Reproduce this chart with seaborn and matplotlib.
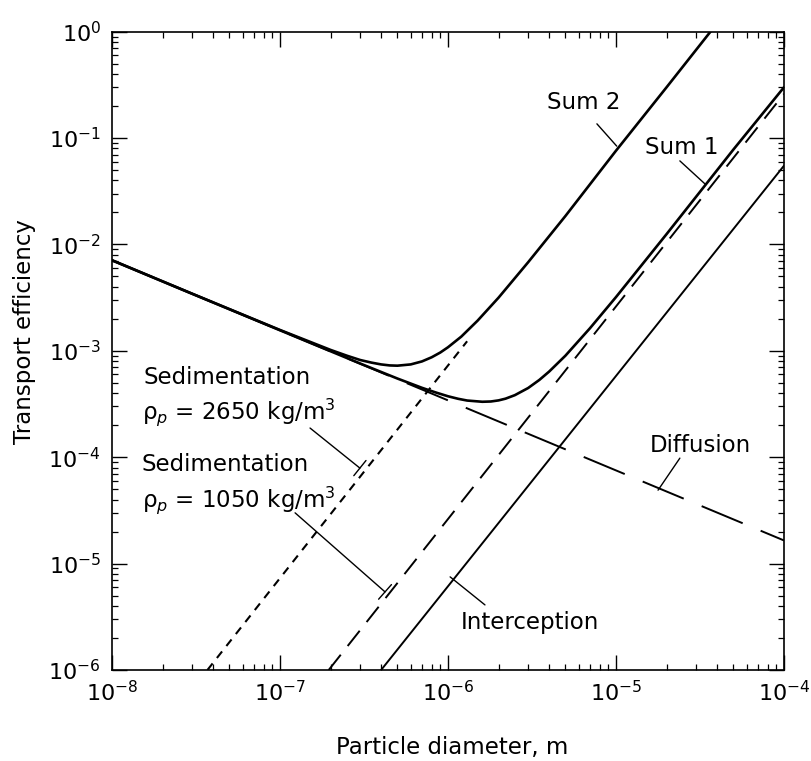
import numpy as np
import pandas as pd
import seaborn as sns
import matplotlib
matplotlib.use('Agg')
import matplotlib.pyplot as plt
from matplotlib.ticker import LogLocator, NullFormatter

# values (particle diameter in m, efficiency)
diff_d = [1e-8, 1e-4]
diff_eff = [7.1e-3, 1.65e-5]

intercept_d = [4e-7, 1e-4]
intercept_eff = [1e-6, 5.5e-2]

sed1050_d = [1.95e-7, 1e-4]
sed1050_eff = [1e-6, 0.26]

sed2650_d = [3.7e-8, 1.3e-6]
sed2650_eff = [1e-6, 1.23e-3]

sum1_d = [1e-8, 3e-8, 1e-7, 3e-7, 5e-7, 7e-7, 8.5e-7, 1e-6, 1.15e-6, 1.3e-6,
          1.6e-6, 1.8e-6, 2e-6, 2.2e-6, 2.5e-6, 3e-6, 3.5e-6, 4e-6, 5e-6, 7e-6,
          1e-5, 2e-5, 5e-5, 1e-4]
sum1_eff = [7.1e-3, 3.44e-3, 1.56e-3, 7.6e-4, 5.49e-4, 4.49e-4, 4.05e-4, 3.74e-4,
            3.54e-4, 3.41e-4, 3.32e-4, 3.34e-4, 3.42e-4, 3.55e-4, 3.83e-4, 4.47e-4,
            5.33e-4, 6.38e-4, 9.0e-4, 1.63e-3, 3.2e-3, 1.25e-2, 7.8e-2, 0.30]

sum2_d = [1e-8, 3e-8, 1e-7, 2e-7, 2.5e-7, 3e-7, 3.5e-7, 4e-7, 4.5e-7, 5e-7,
          6e-7, 7e-7, 8e-7, 9e-7, 1e-6, 1.2e-6, 1.5e-6, 2e-6, 3e-6, 5e-6,
          1e-5, 2e-5, 4e-5]
sum2_eff = [7.1e-3, 3.44e-3, 1.57e-3, 1.02e-3, 9.0e-4, 8.2e-4, 7.75e-4, 7.45e-4,
            7.29e-4, 7.25e-4, 7.45e-4, 7.95e-4, 8.7e-4, 9.64e-4, 1.08e-3, 1.36e-3,
            1.92e-3, 3.16e-3, 6.8e-3, 1.85e-2, 7.6e-2, 0.30, 1.2]

curves = {
    'Diffusion': (diff_d, diff_eff),
    'Interception': (intercept_d, intercept_eff),
    'Sed1050': (sed1050_d, sed1050_eff),
    'Sed2650': (sed2650_d, sed2650_eff),
    'Sum 1': (sum1_d, sum1_eff),
    'Sum 2': (sum2_d, sum2_eff),
}

rows = []
for name, (xs, ys) in curves.items():
    for x, y in zip(xs, ys):
        rows.append({'curve': name, 'd': x, 'eff': y})
df = pd.DataFrame(rows)

sns.set_style('ticks')
plt.rcParams['font.family'] = ['DejaVu Sans']
plt.rcParams['lines.scale_dashes'] = False
plt.rcParams['mathtext.default'] = 'regular'
plt.rcParams['text.color'] = 'black'
plt.rcParams['axes.labelcolor'] = 'black'
plt.rcParams['xtick.color'] = 'black'
plt.rcParams['ytick.color'] = 'black'

dashes = {
    'Diffusion': (32, 14),
    'Interception': '',
    'Sed1050': (14, 8),
    'Sed2650': (6, 5),
    'Sum 1': '',
    'Sum 2': '',
}
sizes = {
    'Diffusion': 1.4,
    'Interception': 1.4,
    'Sed1050': 1.4,
    'Sed2650': 1.5,
    'Sum 1': 1.9,
    'Sum 2': 1.9,
}

fig = plt.figure(figsize=(8.12, 7.61), dpi=100)
ax = fig.add_axes([0.1379, 0.1196, 0.8276, 0.8388])

sns.lineplot(data=df, x='d', y='eff', style='curve', size='curve',
             dashes=dashes, sizes=sizes, color='black', estimator=None,
             sort=False, legend=False, ax=ax)

ax.set_xscale('log')
ax.set_yscale('log')
ax.set_xlim(1e-8, 1e-4)
ax.set_ylim(1e-6, 1e0)

ax.xaxis.set_major_locator(LogLocator(base=10, numticks=10))
ax.yaxis.set_major_locator(LogLocator(base=10, numticks=10))
ax.xaxis.set_minor_locator(LogLocator(base=10, subs=np.arange(2, 10), numticks=20))
ax.yaxis.set_minor_locator(LogLocator(base=10, subs=np.arange(2, 10), numticks=20))
ax.xaxis.set_minor_formatter(NullFormatter())
ax.yaxis.set_minor_formatter(NullFormatter())

ax.tick_params(which='both', direction='in', top=True, right=True, colors='black')
ax.tick_params(which='major', length=11, width=1.0, labelsize=16)
ax.tick_params(which='minor', length=4.5, width=0.9)
ax.tick_params(axis='x', which='major', pad=7)
ax.tick_params(axis='y', which='major', pad=8)
for sp in ax.spines.values():
    sp.set_linewidth(1.2)
    sp.set_color('black')

ax.set_xlabel('Particle diameter, m', fontsize=16.5)
ax.set_ylabel('Transport efficiency', fontsize=16.5)
ax.xaxis.set_label_coords(0.506, -0.103)
ax.yaxis.set_label_coords(-0.113, 0.53)

fs = 16.5
ax.text(6.4e-6, 0.214, 'Sum 2', fontsize=fs, ha='center', va='center')
ax.text(2.47e-5, 0.082, 'Sum 1', fontsize=fs, ha='center', va='center')
ax.text(3.16e-5, 1.3e-4, 'Diffusion', fontsize=fs, ha='center', va='center')
ax.text(3.08e-6, 2.77e-6, 'Interception', fontsize=fs, ha='center', va='center')
ax.text(1.55e-8, 5.56e-4, 'Sedimentation', fontsize=fs, ha='left', va='center')
ax.text(1.5e-8, 2.66e-4, r'$\rho_{\it p}$ = 2650 kg/m$^3$', fontsize=fs, ha='left', va='center')
ax.text(1.5e-8, 8.45e-5, 'Sedimentation', fontsize=fs, ha='left', va='center')
ax.text(1.5e-8, 3.97e-5, r'$\rho_{\it p}$ = 1050 kg/m$^3$', fontsize=fs, ha='left', va='center')

leaders = [
    ((7.7e-6, 0.136), (1.01e-5, 0.084), '-'),
    ((2.4e-5, 0.061), (3.39e-5, 0.037), '-'),
    ((2.4e-5, 9.8e-5), (1.78e-5, 4.9e-5), '-'),
    ((1.66e-6, 4.09e-6), (1.03e-6, 7.5e-6), '-'),
    ((1.51e-7, 1.88e-4), (2.99e-7, 7.9e-5), '-[, widthB=0.7, lengthB=0'),
    ((1.23e-7, 3.0e-5), (4.22e-7, 5.42e-6), '-[, widthB=0.7, lengthB=0'),
]
for start, end, style in leaders:
    ax.annotate('', xy=end, xytext=start,
                arrowprops=dict(arrowstyle=style, lw=1.0, color='black',
                                shrinkA=0, shrinkB=0))

plt.savefig('out.png', dpi=100)
